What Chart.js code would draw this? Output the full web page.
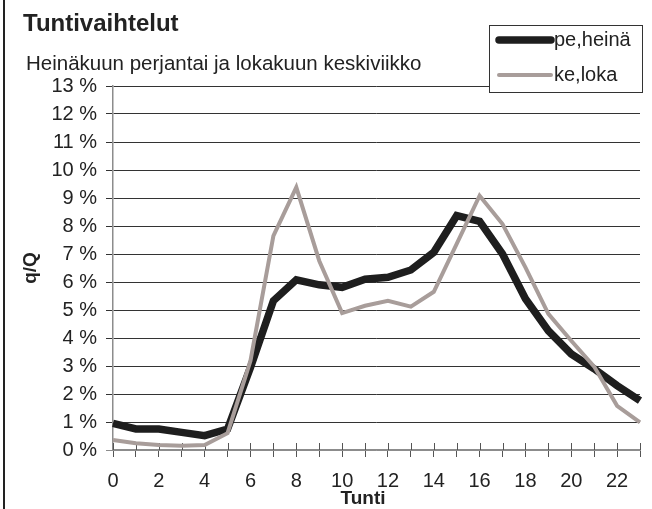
<!DOCTYPE html>
<html>
<head>
<meta charset="utf-8">
<script src="https://cdn.jsdelivr.net/npm/chart.js@4.4.1/dist/chart.umd.min.js"></script>
<style>
  body { margin: 0; background: #fff; }
  #wrap { width: 652px; height: 509px; }
</style>
</head>
<body>
<div id="wrap"><canvas id="myLineChart" width="652" height="509"></canvas></div>
<script>
/* data */

var hours = ['0', '1', '2', '3', '4', '5', '6', '7', '8', '9', '10', '11',
             '12', '13', '14', '15', '16', '17', '18', '19', '20', '21', '22', '23'];

var peHeina = [0.95, 0.75, 0.75, 0.63, 0.51, 0.75, 2.95, 5.33, 6.08, 5.90, 5.81, 6.10,
               6.17, 6.43, 7.06, 8.37, 8.17, 7.00, 5.40, 4.26, 3.43, 2.90, 2.30, 1.76];

var keLoka = [0.36, 0.24, 0.18, 0.15, 0.18, 0.60, 3.19, 7.65, 9.38, 6.76, 4.89, 5.15,
              5.33, 5.12, 5.65, 7.36, 9.08, 8.07, 6.52, 4.86, 3.90, 2.98, 1.58, 0.99];

var yTickLabels = ['0 %', '1 %', '2 %', '3 %', '4 %', '5 %', '6 %', '7 %',
                   '8 %', '9 %', '10 %', '11 %', '12 %', '13 %'];

var FONT = "'Liberation Sans', Arial, sans-serif";
Chart.defaults.font.family = FONT;
Chart.defaults.color = '#222';

// frame line, title, subtitle, legend box, x title and the upper half of the x ticks
var decor = {
    id: 'decor',
    beforeDatasetsDraw: function(chart) {
        var c = chart.ctx, x = chart.scales.x, a = chart.chartArea;
        c.save();
        c.strokeStyle = '#555';
        c.lineWidth = 1;
        for (var i = 0; i < hours.length; i++) {
            var px = Math.round(x.getPixelForValue(i)) + 0.5;
            c.beginPath();
            c.moveTo(px, a.bottom - 7);
            c.lineTo(px, a.bottom);
            c.stroke();
        }
        c.restore();
    },
    afterDraw: function(chart) {
        var c = chart.ctx;
        c.save();
        c.fillStyle = '#222';
        c.fillRect(3, 0, 2, chart.height);

        c.textBaseline = 'alphabetic';
        c.font = 'bold 24px ' + FONT;
        c.fillText('Tuntivaihtelut', 23, 31);
        c.font = '20.5px ' + FONT;
        c.fillText('Heinäkuun perjantai ja lokakuun keskiviikko', 26, 70);

        c.font = 'bold 19px ' + FONT;
        c.textAlign = 'center';
        c.textBaseline = 'middle';
        c.fillText('Tunti', 363, 499);

        // legend
        c.fillStyle = '#fff';
        c.fillRect(489, 25, 153, 67);
        c.strokeStyle = '#333';
        c.lineWidth = 1;
        c.strokeRect(489.5, 25.5, 153, 67);
        var rows = [40, 75];
        var ds = chart.data.datasets;
        c.textAlign = 'left';
        c.font = '20px ' + FONT;
        for (var i = 0; i < ds.length; i++) {
            c.beginPath();
            c.lineCap = 'round';
            c.strokeStyle = ds[i].borderColor;
            c.lineWidth = ds[i].borderWidth;
            c.moveTo(499, rows[i]);
            c.lineTo(551, rows[i]);
            c.stroke();
            c.fillStyle = '#222';
            c.fillText(ds[i].label, 554, rows[i]);
        }
        c.restore();
    }
};

var ctx = document.getElementById('myLineChart').getContext('2d');
var lineChart = new Chart(ctx, {
    type: 'line',
    data: {
        labels: hours,
        datasets: [{
            label: 'pe,heinä',
            data: peHeina,
            borderColor: '#1e1e1e',
            borderWidth: 7.5,
            pointRadius: 0,
            tension: 0,
            order: 1
        }, {
            label: 'ke,loka',
            data: keLoka,
            borderColor: '#a89d9a',
            borderWidth: 4,
            pointRadius: 0,
            tension: 0,
            order: 0
        }]
    },
    options: {
        responsive: false,
        animation: false,
        devicePixelRatio: 1,
        layout: { padding: { left: 0, top: 86, right: 11, bottom: 0 } },
        plugins: {
            legend: { display: false },
            tooltip: { enabled: false }
        },
        scales: {
            x: {
                type: 'category',
                offset: false,
                afterFit: function(scale) { scale.height = 59; },
                grid: { drawOnChartArea: false, tickLength: 7, color: '#555' },
                border: { color: '#8c8c8c', width: 1.5 },
                ticks: {
                    autoSkip: false,
                    maxRotation: 0,
                    padding: 12,
                    font: { size: 20 },
                    callback: function(v, i) { return i % 2 === 0 ? hours[i] : ''; }
                }
            },
            y: {
                min: 0,
                max: 13,
                afterFit: function(scale) { scale.width = 113; },
                grid: {
                    tickLength: 7,
                    color: function(c) { return c.tick && c.tick.value === 0 ? '#8c8c8c' : '#333'; }
                },
                border: { color: '#8c8c8c', width: 1.5 },
                ticks: {
                    stepSize: 1,
                    padding: 9,
                    font: { size: 20 },
                    callback: function(v) { return yTickLabels[v]; }
                },
                title: {
                    display: true,
                    text: 'q/Q',
                    font: { size: 19, weight: 'bold' },
                    padding: { top: 19, bottom: 0 }
                }
            }
        }
    },
    plugins: [decor]
});
</script>
</body>
</html>
